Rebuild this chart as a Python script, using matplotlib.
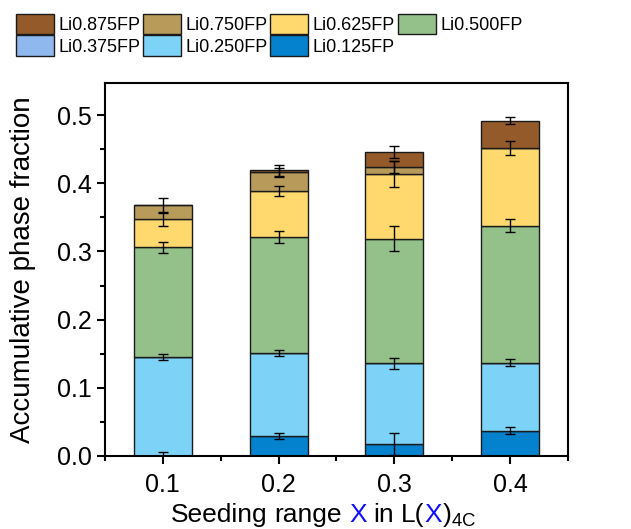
import numpy as np
import matplotlib
matplotlib.use("Agg")
import matplotlib.pyplot as plt
from matplotlib.ticker import MultipleLocator, FormatStrFormatter
from matplotlib.offsetbox import TextArea, HPacker, AnchoredOffsetbox

plt.rcParams['font.family'] = ['Liberation Sans', 'DejaVu Sans']
plt.rcParams['mathtext.default'] = 'regular'

# seeding range X
x = [0.1, 0.2, 0.3, 0.4]

# phase fractions per Li content (stacked from bottom)
li0125 = [0.000, 0.029, 0.018, 0.037]
li0250 = [0.145, 0.122, 0.118, 0.100]
li0375 = [0.000, 0.000, 0.000, 0.000]
li0500 = [0.161, 0.170, 0.183, 0.201]
li0625 = [0.041, 0.068, 0.094, 0.114]
li0750 = [0.021, 0.027, 0.011, 0.000]
li0875 = [0.000, 0.003, 0.022, 0.040]

# standard deviations
err0125 = [0.006, 0.004, 0.016, 0.005]
err0250 = [0.004, 0.005, 0.008, 0.005]
err0375 = [0.0, 0.0, 0.0, 0.0]
err0500 = [0.008, 0.009, 0.018, 0.009]
err0625 = [0.010, 0.007, 0.019, 0.010]
err0750 = [0.010, 0.007, 0.009, 0.0]
err0875 = [0.0, 0.008, 0.009, 0.005]

labels = ['Li0.125FP', 'Li0.250FP', 'Li0.375FP', 'Li0.500FP',
          'Li0.625FP', 'Li0.750FP', 'Li0.875FP']
colors = ['#0582ce', '#7dd3f7', '#8fb8ee', '#94c189',
          '#ffd96e', '#b89b5b', '#945a2a']
series = [li0125, li0250, li0375, li0500, li0625, li0750, li0875]
errors = [err0125, err0250, err0375, err0500, err0625, err0750, err0875]

fig = plt.figure(figsize=(6.31, 5.29), dpi=100)
ax = fig.add_axes([0.1664, 0.138, 0.7336, 0.705])

bottom = np.zeros(len(x))
handles = []
for vals, errs, lab, col in zip(series, errors, labels, colors):
    vals = np.array(vals)
    h = ax.bar(x, vals, width=0.05, bottom=bottom, color=col,
               edgecolor='#1a1a1a', linewidth=1.0, label=lab, zorder=2)
    handles.append(h)
    top = bottom + vals
    for xi, ti, ei in zip(x, top, errs):
        if ei > 0:
            ax.errorbar(xi, ti, yerr=ei, fmt='none', ecolor='black',
                        elinewidth=1.0, capsize=3.5, capthick=1.0, zorder=3)
    bottom = top

ax.set_xlim(0.05, 0.45)
ax.set_ylim(0, 0.547)
ax.xaxis.set_major_locator(MultipleLocator(0.1))
ax.xaxis.set_minor_locator(MultipleLocator(0.05))
ax.yaxis.set_major_locator(MultipleLocator(0.1))
ax.yaxis.set_minor_locator(MultipleLocator(0.05))
ax.xaxis.set_major_formatter(FormatStrFormatter('%.1f'))
ax.yaxis.set_major_formatter(FormatStrFormatter('%.1f'))
ax.tick_params(which='both', direction='out', width=1.5, labelsize=18,
               colors='black')
ax.tick_params(which='major', length=6)
ax.tick_params(which='minor', length=3.5)
ax.tick_params(axis='x', pad=6)
for sp in ax.spines.values():
    sp.set_linewidth(1.5)

ax.set_ylabel('Accumulative phase fraction', fontsize=20, labelpad=15)

# x label with blue X and subscript
fs = 19
inner = HPacker(children=[
    TextArea('L(', textprops=dict(size=fs)),
    TextArea('X', textprops=dict(size=fs, color='#1010ff')),
    TextArea(')$_{4C}$', textprops=dict(size=fs)),
], align='baseline', pad=0, sep=0)
xlab = HPacker(children=[
    TextArea('Seeding', textprops=dict(size=fs)),
    TextArea('range', textprops=dict(size=fs)),
    TextArea('X', textprops=dict(size=fs, color='#1010ff')),
    TextArea('in', textprops=dict(size=fs)),
    inner,
], align='baseline', pad=0, sep=5)
anch = AnchoredOffsetbox(loc='lower center', child=xlab, pad=0, frameon=False,
                         bbox_to_anchor=(0.513, 0.0), bbox_transform=fig.transFigure,
                         borderpad=0)
fig.add_artist(anch)

# legend in rows: top row first
order = [6, 2, 5, 1, 4, 0, 3]
fig.legend([handles[i] for i in order], [labels[i] for i in order],
           loc='upper left', bbox_to_anchor=(0.025, 0.974), ncol=4,
           frameon=False, fontsize=13, handlelength=2.1, handleheight=1.35,
           handletextpad=0.25, columnspacing=0.15, labelspacing=0.08,
           borderpad=0, borderaxespad=0)

fig.savefig('out.png', dpi=100)
